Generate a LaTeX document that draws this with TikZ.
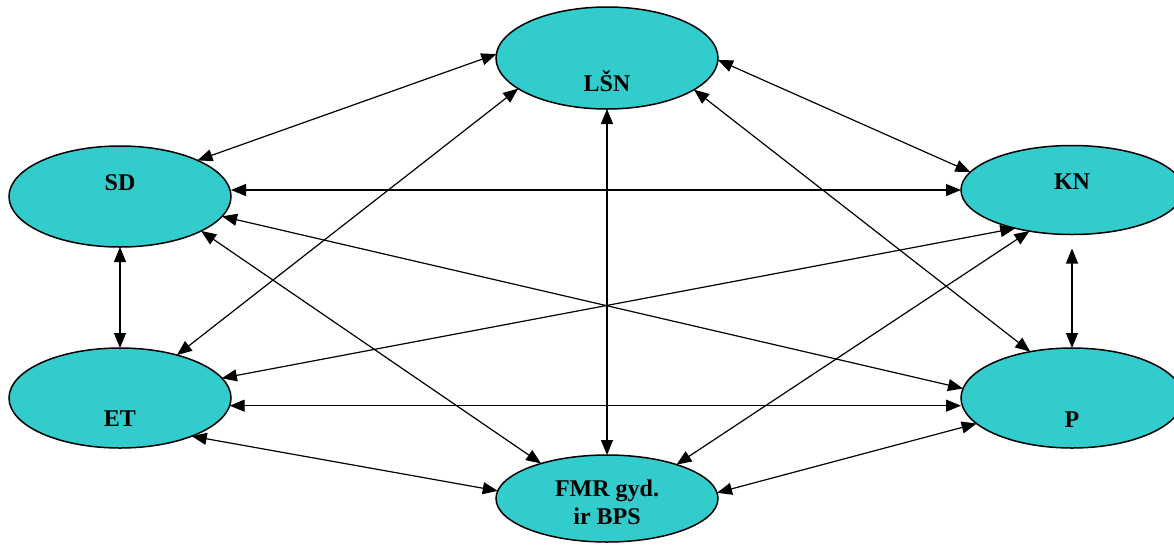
\documentclass[tikz,border=0pt]{standalone}
\usepackage{fontspec}
\setmainfont{Liberation Serif}
\usetikzlibrary{shapes.geometric,arrows.meta}
\definecolor{turq}{RGB}{51,204,204}
\tikzset{
  oval/.style={ellipse,draw=black,line width=0.75pt,fill=turq,inner sep=0pt,outer sep=0pt,minimum width=111pt},
  lbl/.style={font=\fontsize{12}{14}\selectfont\bfseries,inner sep=0pt,align=center},
  link/.style={line width=0.6pt,{Triangle[length=7.5pt,width=6pt]}-{Triangle[length=7.5pt,width=6pt]}}
}
\begin{document}
\begin{tikzpicture}[x=0.5pt,y=-0.5pt]
\useasboundingbox (0,0) rectangle (1174,548);
% ellipses
\node[oval,minimum height=51pt]   (lsn) at (607,58) {};
\node[oval,minimum height=50.5pt] (sd)  at (120,196.5) {};
\node[oval,minimum height=44.5pt] (kn)  at (1072,190) {};
\node[oval,minimum height=50pt]   (et)  at (120,398) {};
\node[oval,minimum height=50pt]   (p)   at (1072,398) {};
\node[oval,minimum height=43.5pt] (fmr) at (607,498.5) {};
% labels
\node[lbl] (lsnT) at (607,81) {LŠN};
\node[lbl] (sdT)  at (120,183) {SD};
\node[lbl] (knT)  at (1072,182) {KN};
\node[lbl] (etT)  at (120,419) {ET};
\node[lbl] (pT)   at (1072,420) {P};
\node[lbl] (fmrT) at (607,502) {FMR gyd.\\ir BPS};
% connectors
\draw[link] (sd.25) -- (lsn.178);
\draw[link] (lsn.-1) -- (kn.170.5);
\draw[link] (sd.east |- kn.west) -- (kn.west);
\draw[link] (sd.-11) -- (p.175);
\draw[link] (sd.-23) -- (fmr.152);
\draw[link] (lsn.-161) -- (et.37);
\draw[link] (lsn.south) -- (fmr.north);
\draw[link] (lsn.-20.5) -- (p.132.7);
\draw[link] (kn.-146.9) -- (et.11.6);
\draw[link] (kn.-136.8) -- (fmr.26.6);
\draw[link,shorten <=7pt] (kn.south) -- (p.north);
\draw[link] (sd.south) -- (et.north);
\draw[link] (et.-4) -- (et.-4 -| p.west);
\draw[link] (et.-28.5) -- (fmr.176.7);
\draw[link] (fmr.3.3) -- (p.-165.1);
\end{tikzpicture}
\end{document}
